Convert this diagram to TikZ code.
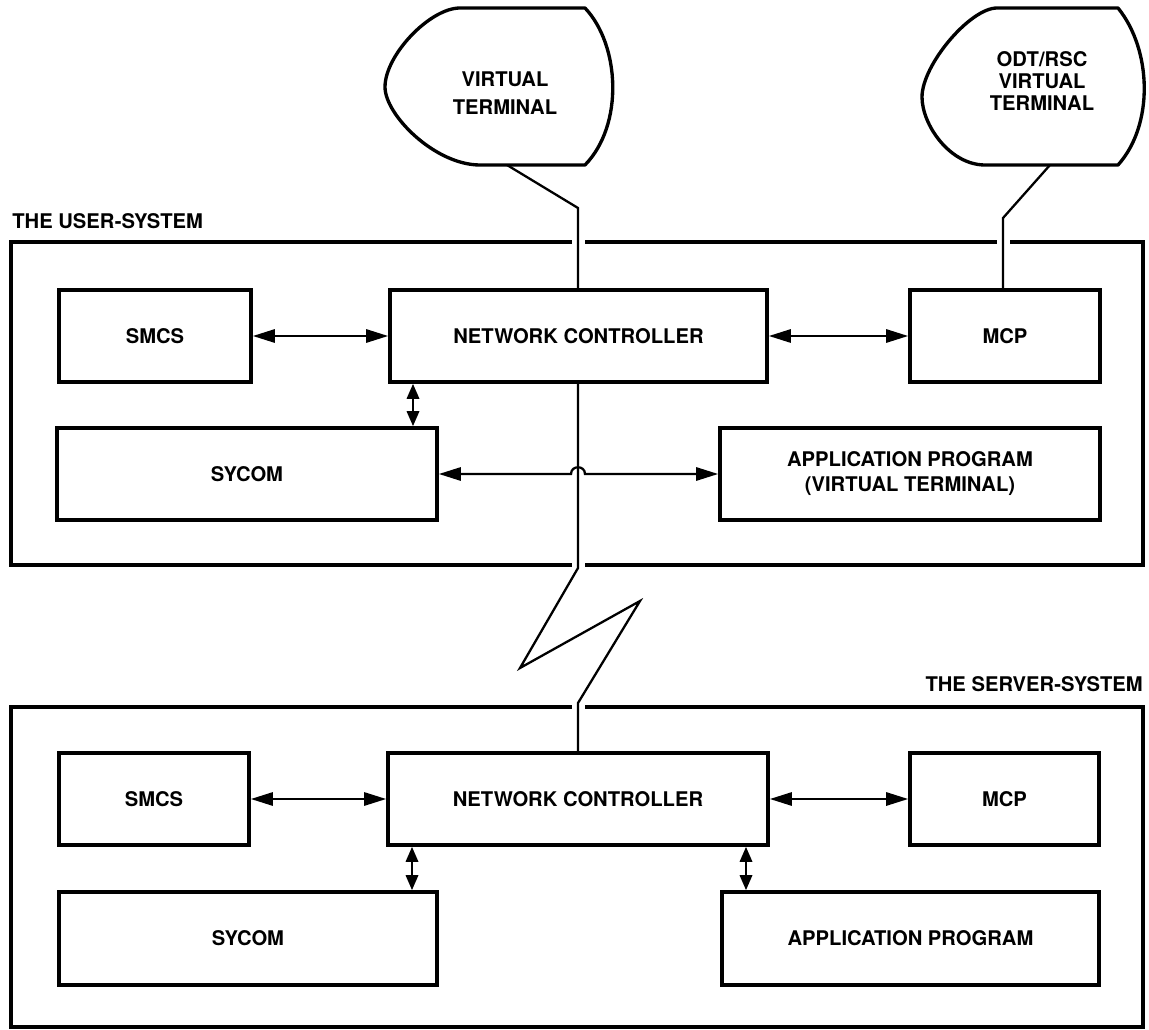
\documentclass[tikz,border=0pt]{standalone}
\usepackage{fontspec}
\setmainfont{TeX Gyre Heros}
\usetikzlibrary{arrows.meta,fit}

\newcommand{\diaglabel}{\fontsize{11.5}{14.2}\selectfont\bfseries}

\begin{document}
\begin{tikzpicture}[x=0.02cm,y=-0.02cm,
  box/.style={draw,line width=2.1pt,inner sep=0pt,rectangle},
  sysframe/.style={draw,line width=2pt,inner sep=0pt,rectangle},
  termshape/.style={draw,line width=1.9pt,line join=round},
  link/.style={line width=1.3pt,line join=miter},
  biarrow/.style={link,{Triangle[length=12.5pt,width=7.5pt]}-{Triangle[length=12.5pt,width=7.5pt]}},
  vbiarrow/.style={link,{Triangle[length=8.5pt,width=7pt]}-{Triangle[length=8.5pt,width=7pt]}},
  gap/.style={draw=white,line width=3.5pt},
  every label/.style={font=\diaglabel,inner sep=0pt,align=center},
  title/.style={font=\diaglabel,inner sep=0pt}]

\useasboundingbox (0,0) rectangle (1149,1030);

% ---- terminals ----
\draw[termshape] (460,8) -- (585,8)
  .. controls (620,45) and (624,125) .. (585,165) -- (480,165)
  .. controls (435,165) and (385,115) .. (385,87)
  .. controls (385,55) and (430,8) .. (460,8) -- cycle;
\node[title,align=center,font=\fontsize{11.5}{15.9}\selectfont\bfseries] (vt) at (505,93) {VIRTUAL\\TERMINAL};

\draw[termshape] (997,8) -- (1118,8)
  .. controls (1152,50) and (1154,125) .. (1118,165) -- (985,165)
  .. controls (950,165) and (922,125) .. (922,97)
  .. controls (922,65) and (970,8) .. (997,8) -- cycle;
\node[title,align=center,font=\fontsize{11.5}{12.3}\selectfont\bfseries] (odt) at (1042,81) {ODT/RSC\\VIRTUAL\\TERMINAL};

% ---- user system ----
\node[title,anchor=west] (utitle) at (12,221) {THE USER-SYSTEM};
\node[sysframe,fit={(11,242) (1143,565)}] (uframe) {};

\node[box,fit={(59,290) (251,382)},label={center:SMCS}] (usmcs) {};
\node[box,fit={(390,290) (767,382)},label={center:NETWORK CONTROLLER}] (unc) {};
\node[box,fit={(910,290) (1100,382)},label={center:MCP}] (umcp) {};
\node[box,fit={(57,428) (437,520)},label={center:SYCOM}] (usycom) {};
\node[box,fit={(720,428) (1100,520)},label={center:{APPLICATION PROGRAM\\(VIRTUAL TERMINAL)}}] (uapp) {};

% ---- server system ----
\node[title,anchor=east] (stitle) at (1143,684) {THE SERVER-SYSTEM};
\node[sysframe,fit={(11,707) (1143,1027)}] (sframe) {};

\node[box,fit={(59,753) (249,845)},label={center:SMCS}] (ssmcs) {};
\node[box,fit={(388,753) (768,845)},label={center:NETWORK CONTROLLER}] (snc) {};
\node[box,fit={(910,753) (1099,845)},label={center:MCP}] (smcp) {};
\node[box,fit={(59,892) (437,985)},label={center:SYCOM}] (ssycom) {};
\node[box,fit={(722,892) (1099,985)},label={center:APPLICATION PROGRAM}] (sapp) {};

% ---- breaks in the frames where lines pass ----
\draw[gap] (572,242) -- (585,242);
\draw[gap] (997,242) -- (1010,242);
\draw[gap] (572,565) -- (585,565);
\draw[gap] (572,707) -- (585,707);

% ---- line coordinates ----
\coordinate (vtfoot) at (507,165);
\coordinate (vtbend) at (578,208);
\coordinate (odtfoot) at (1050,165);
\coordinate (odtbend) at (1003,218);
\coordinate (z0) at (578,568);
\coordinate (z1) at (520,668);
\coordinate (z2) at (640,601);
\coordinate (z3) at (578,703);
\coordinate (ux) at (413,0);
\coordinate (hopl) at (571,474);
\coordinate (hopr) at (585,474);
\coordinate (sxa) at (412,0);
\coordinate (sxb) at (746,0);

% ---- terminal and network lines ----
\draw[link] (vtfoot) -- (vtbend) -- (unc.north -| vtbend);
\draw[link] (odtfoot) -- (odtbend) -- (umcp.north -| odtbend);
\draw[link] (unc.south -| vtbend) -- (z0) -- (z1) -- (z2) -- (z3) -- (snc.north -| z3);

% ---- user system arrows ----
\draw[biarrow] (usmcs.east) -- (unc.west);
\draw[biarrow] (unc.east) -- (umcp.west);
\draw[vbiarrow] (unc.south -| ux) -- (usycom.north -| ux);
\draw[biarrow] (usycom.east) -- (hopl) .. controls (571,465) and (585,465) .. (hopr) -- (uapp.west);

% ---- server system arrows ----
\draw[biarrow] (ssmcs.east) -- (snc.west);
\draw[biarrow] (snc.east) -- (smcp.west);
\draw[vbiarrow] (snc.south -| sxa) -- (ssycom.north -| sxa);
\draw[vbiarrow] (snc.south -| sxb) -- (sapp.north -| sxb);

\end{tikzpicture}
\end{document}
